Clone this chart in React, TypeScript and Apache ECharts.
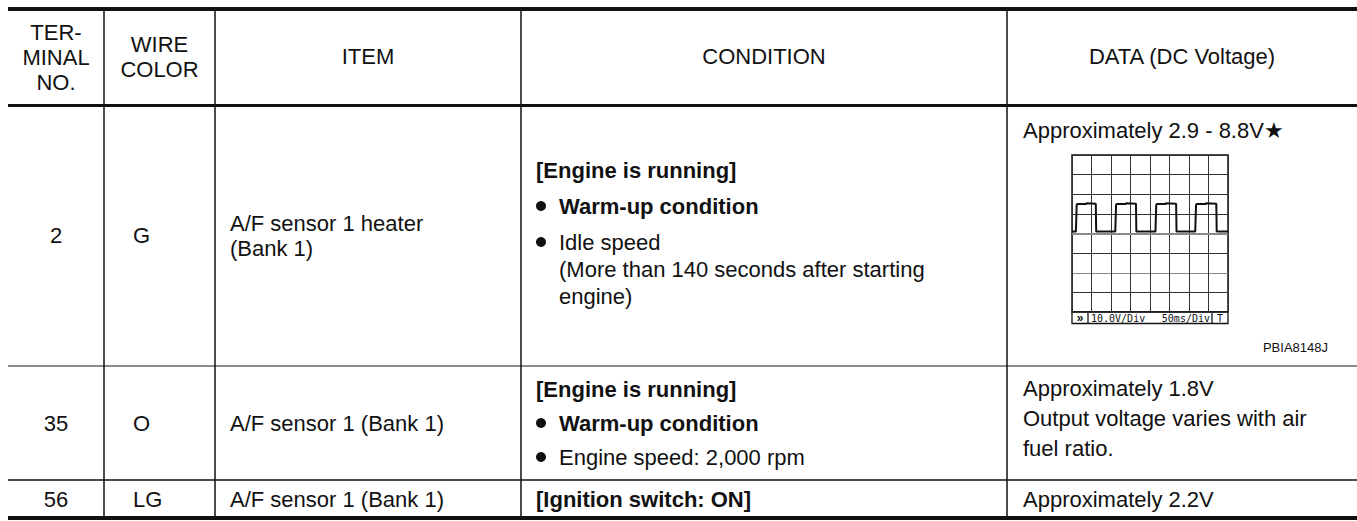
import React, { useEffect, useRef } from "react";
import * as echarts from "echarts";

// ---------- table content ----------
const headerTerminal = ["TER-", "MINAL", "NO."];
const headerWire = ["WIRE", "COLOR"];
const headerItem = "ITEM";
const headerCondition = "CONDITION";
const headerData = "DATA (DC Voltage)";

const terminals = ["2", "35", "56"];
const wireColors = ["G", "O", "LG"];
const items = [["A/F sensor 1 heater", "(Bank 1)"], ["A/F sensor 1 (Bank 1)"], ["A/F sensor 1 (Bank 1)"]];
const conditionHeads = ["[Engine is running]", "[Engine is running]", "[Ignition switch: ON]"];
const row1Bullets = [
  { lines: ["Warm-up condition"], bold: true },
  { lines: ["Idle speed", "(More than 140 seconds after starting", "engine)"], bold: false },
];
const row2Bullets = [
  { lines: ["Warm-up condition"], bold: true },
  { lines: ["Engine speed: 2,000 rpm"], bold: false },
];
const dataTexts = [
  ["Approximately 2.9 - 8.8V★"],
  ["Approximately 1.8V", "Output voltage varies with air", "fuel ratio."],
  ["Approximately 2.2V"],
];
const scopeVoltDiv = "10.0V/Div";
const scopeTimeDiv = "50ms/Div";
const scopeTrigger = "T";
const scopeArrow = "»";
const figureCode = "PBIA8148J";

// ---------- waveform (ms, V) ----------
const waveTimeMs = [0, 10, 11, 12, 13, 36, 37, 61, 62, 111, 112, 113, 114, 138, 139, 164, 165, 214, 215, 216, 217, 240, 241, 267, 268, 316, 317, 318, 319, 343, 344, 370, 371, 400];
const waveVolts = [1, 1, 8, 14.5, 15, 15, 15.4, 15.2, 1, 1, 8, 14.5, 15, 15, 15.4, 15.2, 1, 1, 8, 14.5, 15, 15, 15.4, 15.2, 1, 1, 8, 14.5, 15, 15, 15.4, 15.2, 1, 1];
const timeTicks = { min: 0, max: 400, interval: 50 };
const voltTicks = { min: -40, max: 40, interval: 10 };

// ---------- layout ----------
const FONT = '"Liberation Sans", Arial, Helvetica, sans-serif';
const FS = 22;
const INK = "#111";
const W = 1357;
const H = 521;
const LEFT = 8;
const colX = [104, 215, 521, 1007];
const lineY = { top: 9, head: 105.5, r1: 366, r2: 480, bottom: 518 };

function txt(text: string, x: number, y: number, opts: any = {}) {
  const size = opts.size ?? FS;
  const weight = opts.bold ? "bold " : "";
  const family = opts.family ?? FONT;
  return {
    type: "text",
    x,
    y,
    silent: true,
    style: {
      text,
      fill: opts.fill ?? INK,
      font: `${weight}${size}px ${family}`,
      align: opts.align ?? "left",
      verticalAlign: "middle",
    },
  };
}

function ln(x1: number, y1: number, x2: number, y2: number, w: number, color = INK) {
  return {
    type: "line",
    silent: true,
    shape: { x1, y1, x2, y2 },
    style: { stroke: color, lineWidth: w },
  };
}

function bullet(cx: number, cy: number) {
  return { type: "circle", silent: true, shape: { cx, cy, r: 5 }, style: { fill: INK } };
}

function buildGraphics() {
  const g: any[] = [];
  // horizontal rules
  g.push(ln(LEFT, lineY.top, W, lineY.top, 4));
  g.push(ln(LEFT, lineY.head, W, lineY.head, 3));
  g.push(ln(LEFT, lineY.r1, W, lineY.r1, 2, "#8a8a8a"));
  g.push(ln(LEFT, lineY.r2, W, lineY.r2, 1.5));
  g.push(ln(LEFT, lineY.bottom, W, lineY.bottom, 4));
  // vertical rules
  colX.forEach((x) => g.push(ln(x, lineY.top + 2, x, lineY.bottom - 2, 1.5)));

  // header
  const c1 = (LEFT + colX[0]) / 2;
  const c2 = (colX[0] + colX[1]) / 2;
  [32, 57, 82].forEach((y, i) => g.push(txt(headerTerminal[i], c1, y, { align: "center" })));
  [44, 69].forEach((y, i) => g.push(txt(headerWire[i], c2, y, { align: "center" })));
  g.push(txt(headerItem, (colX[1] + colX[2]) / 2, 56, { align: "center" }));
  g.push(txt(headerCondition, (colX[2] + colX[3]) / 2, 56, { align: "center" }));
  g.push(txt(headerData, (colX[3] + W) / 2, 56, { align: "center" }));

  const wireX = 133;
  const itemX = 230;
  const condX = 536;
  const bulletX = 541;
  const bulletTextX = 559;
  const dataX = 1023;

  // row 1
  const r1c = 235;
  g.push(txt(terminals[0], c1, r1c, { align: "center" }));
  g.push(txt(wireColors[0], wireX, r1c));
  g.push(txt(items[0][0], itemX, 223));
  g.push(txt(items[0][1], itemX, 248));
  g.push(txt(conditionHeads[0], condX, 170, { bold: true }));
  const r1BulletY = [[206], [242, 269, 296]];
  row1Bullets.forEach((b, bi) => {
    g.push(bullet(bulletX, r1BulletY[bi][0]));
    b.lines.forEach((l, li) => g.push(txt(l, bulletTextX, r1BulletY[bi][li], { bold: b.bold })));
  });
  g.push(txt(dataTexts[0][0], dataX, 130));

  // row 2
  const r2c = 423;
  g.push(txt(terminals[1], c1, r2c, { align: "center" }));
  g.push(txt(wireColors[1], wireX, r2c));
  g.push(txt(items[1][0], itemX, r2c));
  g.push(txt(conditionHeads[1], condX, 389, { bold: true }));
  const r2BulletY = [423, 457];
  row2Bullets.forEach((b, bi) => {
    g.push(bullet(bulletX, r2BulletY[bi]));
    g.push(txt(b.lines[0], bulletTextX, r2BulletY[bi], { bold: b.bold }));
  });
  [388, 418, 448].forEach((y, i) => g.push(txt(dataTexts[1][i], dataX, y)));

  // row 3
  const r3c = 499;
  g.push(txt(terminals[2], c1, r3c, { align: "center" }));
  g.push(txt(wireColors[2], wireX, r3c));
  g.push(txt(items[2][0], itemX, r3c));
  g.push(txt(conditionHeads[2], condX, r3c, { bold: true }));
  g.push(txt(dataTexts[2][0], dataX, r3c));

  // scope label bar
  const sx = 1072, sw = 156, barTop = 312, barBot = 323.5;
  g.push({
    type: "rect",
    silent: true,
    shape: { x: sx, y: barTop, width: sw, height: barBot - barTop },
    style: { fill: "none", stroke: INK, lineWidth: 1.3 },
  });
  g.push(ln(1088, barTop, 1088, barBot, 1.3));
  g.push(ln(1212, barTop, 1212, barBot, 1.3));
  const mono = '"DejaVu Sans Mono", monospace';
  g.push(txt(scopeArrow, 1080, 317.5, { size: 12, bold: true, align: "center", family: FONT }));
  g.push(txt(scopeVoltDiv, 1091, 318, { size: 10, family: mono }));
  g.push(txt(scopeTimeDiv, 1210, 318, { size: 10, family: mono, align: "right" }));
  g.push(txt(scopeTrigger, 1220, 318, { size: 10, family: mono, align: "center" }));
  g.push(txt(figureCode, 1328, 347, { size: 13, align: "right" }));
  return g;
}

export default function App() {
  const ref = useRef<HTMLDivElement>(null);
  useEffect(() => {
    if (!ref.current) return;
    const chart = echarts.init(ref.current, undefined, { renderer: "svg" });
    const wave = waveTimeMs.map((t, i) => [t, waveVolts[i]]);
    chart.setOption({
      animation: false,
      backgroundColor: "#fff",
      grid: {
        left: 1072,
        top: 155,
        width: 156,
        height: 157,
        show: true,
        borderColor: INK,
        borderWidth: 1.5,
        backgroundColor: "transparent",
      },
      xAxis: {
        type: "value",
        ...timeTicks,
        axisLine: { show: false },
        axisTick: { show: false },
        axisLabel: { show: false },
        splitLine: { show: true, lineStyle: { color: "#333", width: 1 } },
      },
      yAxis: {
        type: "value",
        ...voltTicks,
        axisLine: { show: false },
        axisTick: { show: false },
        axisLabel: { show: false },
        splitLine: {
          show: true,
          lineStyle: {
            color: ["#333", "#333", "#8a8a8a", "#333", "#8a8a8a", "#333", "#333", "#333", "#333"],
            width: 1,
          },
        },
      },
      series: [
        {
          type: "line",
          data: wave,
          symbol: "none",
          silent: true,
          lineStyle: { color: INK, width: 2 },
          markLine: {
            silent: true,
            symbol: "none",
            label: { show: false },
            lineStyle: { color: "#8a8a8a", width: 2, type: "solid" },
            data: [{ yAxis: 0 }],
          },
          z: 3,
        },
      ],
      graphic: buildGraphics(),
    });
    return () => chart.dispose();
  }, []);
  return (
    <div
      ref={ref}
      style={{ position: "fixed", left: 0, top: 0, width: W, height: H, background: "#fff" }}
    />
  );
}
